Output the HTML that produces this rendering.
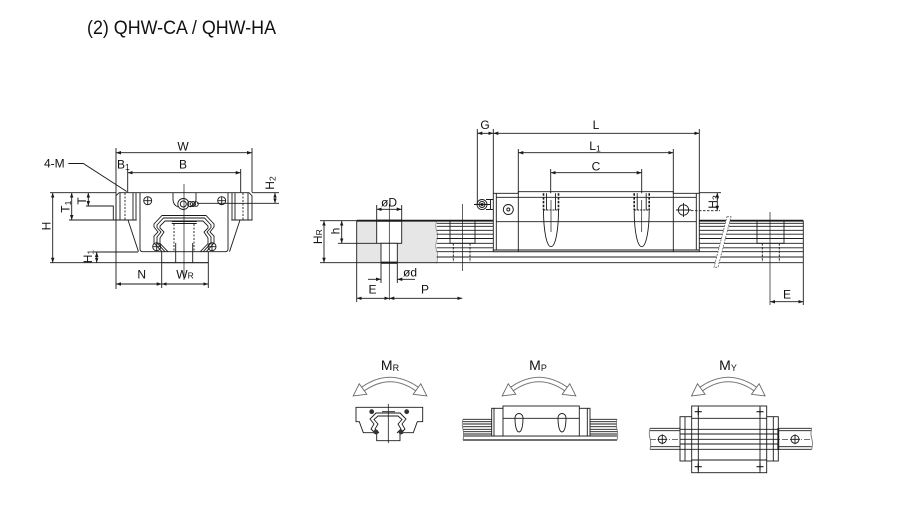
<!DOCTYPE html>
<html><head><meta charset="utf-8"><style>
html,body{margin:0;padding:0;background:#fff;}
svg{display:block;}
.d{marker-start:url(#a);marker-end:url(#a);}
text{font-family:"Liberation Sans",Arial,sans-serif;fill:#111;}
</style></head><body>
<svg width="905" height="528" viewBox="0 0 905 528" xmlns="http://www.w3.org/2000/svg">
<defs>
<marker id="a" viewBox="0 0 10 10" refX="10" refY="5" markerWidth="5" markerHeight="5" orient="auto-start-reverse" markerUnits="userSpaceOnUse"><path d="M0,1.5 L10,5 L0,8.5z" fill="#1a1a1a"/></marker>
<g id="arc">
<path d="M363,389 Q390,370 417,389" fill="none" stroke="#777" stroke-width="5.5"/>
<path d="M363,389 Q390,370 417,389" fill="none" stroke="#fff" stroke-width="3.5"/>
<polygon points="353.2,395.9 366.8,394.3 359.2,383.7" fill="#fff" stroke="#666" stroke-width="0.9"/>
<polygon points="426.8,395.9 413.2,394.3 420.8,383.7" fill="#fff" stroke="#666" stroke-width="0.9"/>
</g>
</defs>
<rect width="905" height="528" fill="#fff"/>

<text x="87" y="34" font-size="19" textLength="189" lengthAdjust="spacingAndGlyphs">(2) QHW-CA / QHW-HA</text>

<!-- ============ LEFT END VIEW ============ -->
<g stroke="#1a1a1a" stroke-width="0.9" fill="none">
<line x1="116" y1="152.7" x2="252" y2="152.7" class="d"/>
<line x1="127.7" y1="172.7" x2="240.7" y2="172.7" class="d"/>
<path d="M116,148V289 M252,148V192.3 M127.7,169V192.3 M240.7,169V192.3"/>
<path d="M68.3,163.5H83.3L126.7,191.5"/>
<line x1="52.7" y1="192.7" x2="52.7" y2="262.7" class="d"/>
<path d="M50,192.7H116 M50,262.7H208.3"/>
<line x1="71.7" y1="192.7" x2="71.7" y2="220" class="d"/>
<path d="M69,220H116"/>
<line x1="88.3" y1="192.7" x2="88.3" y2="206" class="d"/>
<path d="M86,206H113.3V220"/>
<line x1="96.7" y1="252" x2="96.7" y2="262.7" class="d"/>
<path d="M94,252H138"/>
<line x1="275" y1="192.7" x2="275" y2="203.3" class="d"/>
<path d="M252,192.7H279 M197,203.3H279"/>
<line x1="116" y1="284" x2="161.7" y2="284" class="d"/>
<line x1="161.7" y1="284" x2="208.3" y2="284" class="d"/>
<path d="M161.7,262.7V288 M208.3,262.7V288"/>
<path d="M119,192.7H249L252,195.7V220H231.3 M116,195.7L119,192.7 M116,195.7V220H136.7"/>
<path d="M120,193V220 M133,193V220 M136,193V220 M248,193V220 M235,193V220 M232,193V220"/>
<path d="M125,193V220 M243,193V220" stroke-dasharray="2,1.5"/>
<path d="M140,192.7V249Q140,251.7 143,251.7H161.7 M208.3,251.7H225Q228,251.7 228,249V192.7"/>
<path d="M128,220L138.5,251.7 M240,220L229.5,251.7"/>
<path d="M173,192.7V199Q173,205 178,207 M196,192.7V199Q196,205 190,207"/>
<circle cx="183.3" cy="204" r="5.5"/>
<circle cx="183.3" cy="204" r="3"/>
<circle cx="190" cy="204" r="2.5"/><circle cx="193" cy="204" r="2.5"/><circle cx="196" cy="204" r="2.3"/>
<g>
<circle cx="147.7" cy="200.7" r="4"/><path d="M143.7,200.7h8M147.7,196.7v8"/>
<circle cx="221.7" cy="200.7" r="4"/><path d="M217.7,200.7h8M221.7,196.7v8"/>
<circle cx="156.7" cy="246.7" r="4"/><path d="M152.7,246.7h8M156.7,242.7v8"/>
<circle cx="212" cy="246.7" r="4"/><path d="M208,246.7h8M212,242.7v8"/>
</g>
<path d="M162,251.7L154,243V236L158,232L154,227V224L162,215.5H206L214,224V227L210,232L214,236V243L206.3,251.7"/>
<path d="M165,251.7L157,243V237L161,232L157,227.5V225L163.5,218H204.5L211,225V227.5L207,232L211,237V243L203.3,251.7"/>
<path d="M168,251.7L160,243.5V238L164,232L160,228V226L165,221H203L208,226V228L204,232L208,238V243.5L200.3,251.7"/>
<path d="M171.7,221.5H196.7 M171.7,223.5H196.7"/>
<path d="M174,224V251.7 M194,224V251.7" stroke-dasharray="2,1.5"/>
<rect x="161.7" y="251.7" width="46.6" height="11"/>
<path d="M175.7,243V262.7 M192.7,243V262.7"/>
<path d="M184,184V280" stroke-width="0.7"/>
</g>
<g font-size="12">
<text x="183" y="150.5" text-anchor="middle">W</text>
<text x="117" y="168.3">B<tspan font-size="8.5" dy="1.5">1</tspan></text>
<text x="183" y="168.3" text-anchor="middle">B</text>
<text x="44" y="167.5">4-M</text>
<text transform="translate(50.5,226) rotate(-90)" text-anchor="middle">H</text>
<text transform="translate(69.5,206.7) rotate(-90)" text-anchor="middle">T<tspan font-size="8.5" dy="1.5">1</tspan></text>
<text transform="translate(85.8,201) rotate(-90)" text-anchor="middle">T</text>
<text transform="translate(92.2,256.5) rotate(-90)" text-anchor="middle">H<tspan font-size="8.5" dy="1.5">1</tspan></text>
<text transform="translate(273.8,183) rotate(-90)" text-anchor="middle">H<tspan font-size="8.5" dy="1.5">2</tspan></text>
<text x="141.7" y="278.5" text-anchor="middle">N</text>
<text x="185" y="278.5" text-anchor="middle">W<tspan font-size="8.5">R</tspan></text>
</g>

<!-- ============ SECTION + SIDE VIEW ============ -->
<path d="M356.7,220.7H436.7q-2,5 0,10q2,5 0,10q-2,5 0,10q2,5 0,12.7H356.7Z" fill="#e6e6e6"/>
<g stroke="#1a1a1a" stroke-width="0.9" fill="none">
<path d="M436.7,220.7q-2,5 0,10q2,5 0,10q-2,5 0,10q2,5 0,12.7" stroke="#888" stroke-width="0.7"/>
<path d="M356.7,220.7V262.7"/>
<path d="M356.7,220.7H803.3" stroke-width="1.8"/>
<path d="M436.7,223.3H803.3 M436.7,226.3H803.3 M436.7,230.3H803.3 M436.7,234.2H803.3 M436.7,238.5H803.3 M436.7,243.3H803.3 M436.7,247.8H803.3 M436.7,251.7H803.3 M436.7,257H803.3 M356.7,262.7H803.3 M803.3,220.7V262.7"/>
<rect x="376.7" y="220.7" width="25" height="22.6" fill="#fff"/>
<rect x="381" y="243.3" width="16.3" height="19.4" fill="#fff"/>
<path d="M376.7,220.7H401.7 M381,262.7H397.3" stroke-width="2.2"/>
<path d="M389.3,204V300" stroke-width="0.7"/>
<line x1="376.7" y1="209.3" x2="401.7" y2="209.3" class="d"/>
<path d="M376.7,205V220.7 M401.7,205V220.7"/>
<path d="M368,279.3H381" marker-end="url(#a)"/>
<path d="M415,279.3H397.3" marker-end="url(#a)"/>
<path d="M381,262.7V283 M397.3,262.7V283"/>
<line x1="324" y1="220.7" x2="324" y2="262.7" class="d"/>
<line x1="341.7" y1="220.7" x2="341.7" y2="243.3" class="d"/>
<path d="M320,220.7H356.7 M338,243.3H376.7 M320,262.7H356.7"/>
<line x1="356.7" y1="298.3" x2="389.3" y2="298.3" class="d"/>
<line x1="389.3" y1="298.3" x2="462.3" y2="298.3" class="d"/>
<path d="M356.7,262.7V302"/>
<path d="M450,220.7V243.3H475V220.7 M757,220.7V243.3H784V220.7"/>
<path d="M453.3,243.3V262 M470,243.3V262 M762.3,243.3V262 M779.3,243.3V262" stroke-dasharray="2.5,1.2"/>
<path d="M462.5,204V271 M770,212V305" stroke-width="0.7"/>
<polygon points="727,216.7 731,216.7 718,267.3 714,267.3" fill="#fff" stroke="#666" stroke-width="0.8" stroke-dasharray="2,1"/>
<line x1="770" y1="301.7" x2="803.3" y2="301.7" class="d"/>
<path d="M803.3,262.7V305"/>
<path d="M493.3,193.3H518.3V191.7H673.3V193.3H699.3V251.7H493.3Z" fill="#fff"/>
<path d="M496.3,193.3V250 M696.3,193.3V250 M493.3,250H699.3 M518.3,191.7V251.7 M673.3,191.7V251.7 M496.3,197.3H696.3 M496.3,221.7H696.3"/>
<circle cx="482" cy="204.5" r="5"/><circle cx="482" cy="204.5" r="3"/><circle cx="482" cy="204.5" r="1.2"/>
<path d="M486,199.5H493.3 M486,209.5H493.3 M490.5,199.5V209.5 M474,204.5H490"/>
<circle cx="508.3" cy="209.5" r="5"/><circle cx="508.3" cy="209.5" r="1.5"/>
<circle cx="683.5" cy="210" r="5.2"/>
<path d="M683.5,203V217 M676,210H691"/>
<path d="M691,210.7H720" stroke-dasharray="2.5,1.5"/>
<path d="M543.5,193.3V210 M558.5,193.3V210 M634.2,193.3V210 M649.2,193.3V210" stroke-width="1.6" stroke-dasharray="2.5,1.3"/>
<path d="M546.5,193.3V210 M555.5,193.3V210 M637.2,193.3V210 M646.2,193.3V210"/>
<path d="M543.5,210H558.5 M634.2,210H649.2" stroke-dasharray="2,1"/>
<path d="M543.5,210C543.5,230 546.5,246.7 551,246.7C555.5,246.7 558.5,230 558.5,210"/>
<path d="M634.2,210C634.2,230 637.2,246.7 641.7,246.7C646.2,246.7 649.2,230 649.2,210"/>
<path d="M551,200V232 M641.7,200V232" stroke-width="0.7"/>
<line x1="717.3" y1="192.7" x2="717.3" y2="210.7" class="d"/>
<path d="M699.3,192.7H721"/>
<line x1="477.3" y1="133.3" x2="493.3" y2="133.3" class="d"/>
<line x1="493.3" y1="133.3" x2="699.3" y2="133.3" class="d"/>
<line x1="518.3" y1="152.7" x2="673.3" y2="152.7" class="d"/>
<line x1="550.7" y1="172.7" x2="641.7" y2="172.7" class="d"/>
<path d="M477.3,129V204 M493.3,129V193.3 M699.3,129V193.3 M518.3,149V191.7 M673.3,149V191.7 M550.7,169V193.3 M641.7,169V193.3"/>
</g>
<g font-size="12">
<text x="389" y="206.5" text-anchor="middle">øD</text>
<text x="410" y="276.7" text-anchor="middle">ød</text>
<text transform="translate(322,236.7) rotate(-90)" text-anchor="middle">H<tspan font-size="8.5">R</tspan></text>
<text transform="translate(339.7,231) rotate(-90)" text-anchor="middle">h</text>
<text x="372.5" y="293.5" text-anchor="middle">E</text>
<text x="425" y="293.5" text-anchor="middle">P</text>
<text x="485" y="129" text-anchor="middle">G</text>
<text x="596" y="129" text-anchor="middle">L</text>
<text x="595" y="150" text-anchor="middle">L<tspan font-size="8.5" dy="1.5">1</tspan></text>
<text x="596" y="170.5" text-anchor="middle">C</text>
<text transform="translate(716.8,202) rotate(-90)" text-anchor="middle">H<tspan font-size="8.5" dy="1.5">3</tspan></text>
<text x="787" y="298.5" text-anchor="middle">E</text>
</g>

<!-- ============ MOMENT ICONS ============ -->
<use href="#arc"/>
<use href="#arc" x="149"/>
<use href="#arc" x="338.3"/>
<g font-size="14">
<text x="390" y="370" text-anchor="middle">M<tspan font-size="9" dy="1">R</tspan></text>
<text x="538" y="370" text-anchor="middle">M<tspan font-size="9" dy="1">P</tspan></text>
<text x="728" y="370" text-anchor="middle">M<tspan font-size="9" dy="1">Y</tspan></text>
</g>
<g stroke="#1a1a1a" stroke-width="0.9" fill="none">
<path d="M356,407.3H422.7V421.7H417.3L413.3,432.7H400V440.7H376.7V432.7H363.3L359.3,421.7H356Z" fill="#fff"/>
<path d="M375,433L371,429L374,424L370,419L376,413H400L406,419L402,424L405,429L401,433"/>
<path d="M379,433L375,429L378,424L374,419.5L378,416H398L402,419.5L398,424L401,429L397,433"/>
<path d="M382,411.7H395 M388.3,404V443" stroke-width="0.8"/>
<g fill="#333" stroke="none">
<circle cx="371.7" cy="411.7" r="2.4"/><circle cx="406.7" cy="411.7" r="2.4"/>
<circle cx="376" cy="432" r="2.4"/><circle cx="401" cy="432" r="2.4"/>
</g>
<path d="M463,419.3H617 M463,421.7H617 M463,424H617 M463,426.7H617 M463,429.3H617 M463,431.7H617 M463,434H617 M463,436H617"/>
<path d="M463,440H617" stroke-width="1.3"/>
<path d="M463,419.3q-1.5,5 0,10q1.5,5 0,10.7 M617,419.3q-1.5,5 0,10q1.5,5 0,10.7" stroke="#777"/>
<rect x="491.7" y="408.3" width="98.3" height="27.7" fill="#fff"/>
<path d="M494,408.3V436 M587.3,408.3V436"/>
<rect x="503" y="406" width="76.3" height="30" fill="#fff"/>
<path d="M503,418.3H579.3"/>
<path d="M515,418.3C515,426 516.5,432 519,432C521.5,432 523,426 523,418.3 M515,418.3C515,415 517,413.5 519,413.5C521,413.5 523,415 523,418.3"/>
<path d="M558,418.3C558,426 559.5,432 562,432C564.5,432 566,426 566,418.3 M558,418.3C558,415 560,413.5 562,413.5C564,413.5 566,415 566,418.3"/>
<path d="M650,428.3H811.7 M650,430.7H811.7 M650,446.7H811.7 M650,449.3H811.7"/>
<path d="M650,439.3H811.7" stroke-width="0.6" stroke-dasharray="6,2,1,2"/>
<path d="M650,428.3q-1.5,5 0,10q1.5,5 0,11 M811.7,428.3q-1.5,5 0,10q1.5,5 0,11" stroke="#777"/>
<circle cx="662.3" cy="439.3" r="4"/><path d="M657.3,439.3h10M662.3,434.3v10"/>
<circle cx="795" cy="439.3" r="4"/><path d="M790,439.3h10M795,434.3v10"/>
<rect x="680" y="416.7" width="98.3" height="44.3" fill="#fff"/>
<path d="M685,416.7V461 M773.3,416.7V461"/>
<path d="M778.3,428V450" stroke-width="1.8"/>
<rect x="691.7" y="406" width="75" height="66.7" fill="#fff"/>
<path d="M698.3,406V472.7 M760,406V472.7 M691.7,418.3H766.7 M691.7,460H766.7"/>
<path d="M680,429.3H778.3 M680,434H778.3 M680,439.3H778.3 M680,444H778.3 M680,449.3H778.3"/>
<g stroke-width="1.1">
<path d="M694.8,411.7h7M698.3,408.2v7 M756.5,411.7h7M760,408.2v7 M694.8,466.7h7M698.3,463.2v7 M756.5,466.7h7M760,463.2v7"/>
</g>
</g>
</svg>
</body></html>
